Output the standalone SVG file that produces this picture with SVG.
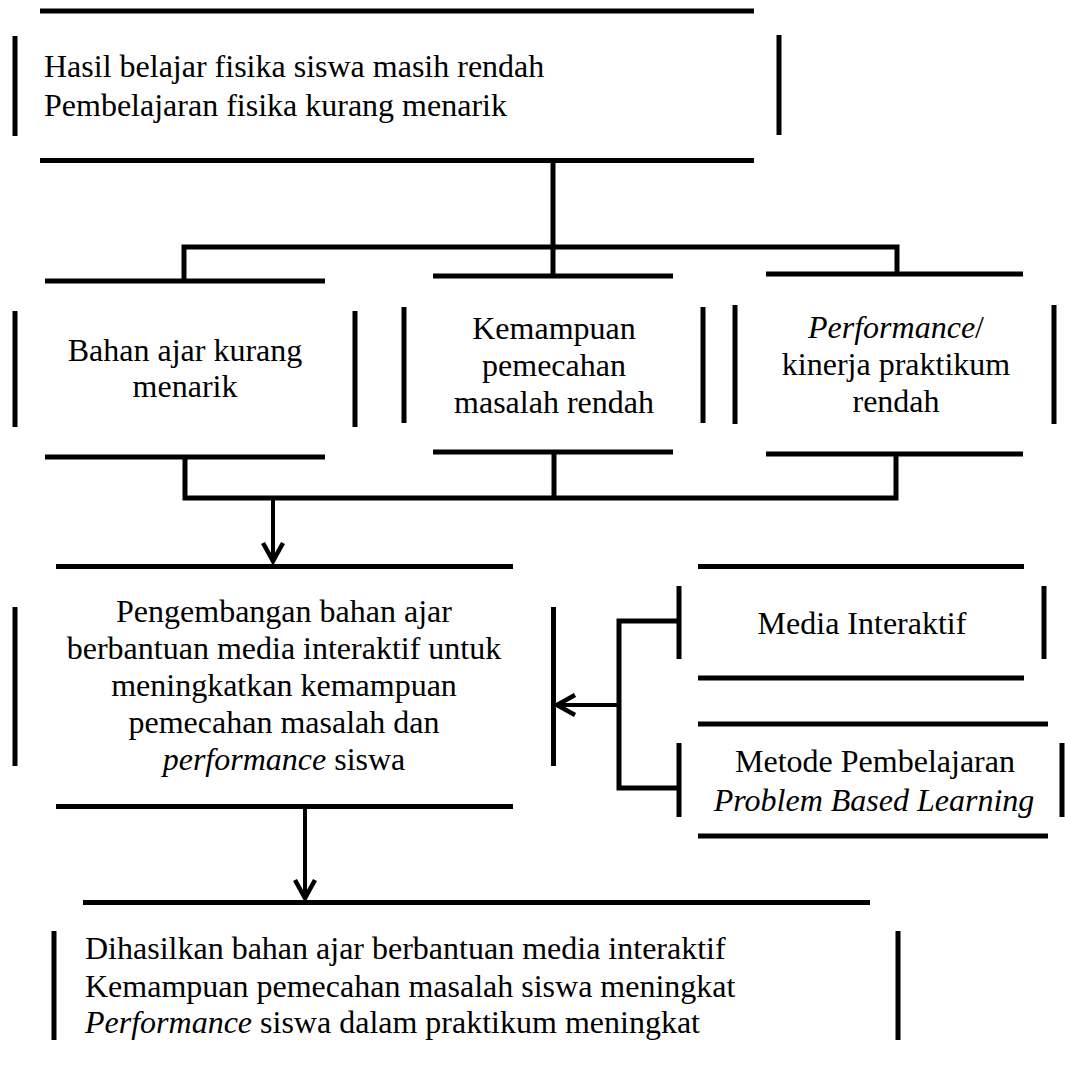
<svg xmlns="http://www.w3.org/2000/svg" width="1065" height="1065" viewBox="0 0 1065 1065">
<style>
.e{stroke:#000;stroke-width:5;fill:none;stroke-linecap:butt}
.c{stroke:#000;stroke-width:5;fill:none;stroke-linejoin:miter}
.a{stroke:#000;stroke-width:4;fill:none}
text{font-family:"Liberation Serif","Times New Roman",serif;font-size:32px;fill:#000}
.m{text-anchor:middle}
.i{font-style:italic}
</style>
<defs>
<marker id="arr" markerUnits="userSpaceOnUse" viewBox="-22 -13 26 26" markerWidth="26" markerHeight="26" refX="0" refY="0" orient="auto" overflow="visible">
<path d="M-18,-10 L0,0 L-18,10" fill="none" stroke="#000" stroke-width="4.5" stroke-linejoin="miter"/>
</marker>
</defs>
<rect width="1065" height="1065" fill="#fff"/>

<g id="connectors">
<path class="c" d="M553,161 V276"/>
<path class="c" d="M184,281 V247 H897 V274"/>
<path class="c" d="M185,457 V498 H896 V454"/>
<path class="c" d="M554,452 V498"/>
<path class="a" d="M273,498 V561" marker-end="url(#arr)"/>
<path class="c" d="M679,621 H619 V788 H679"/>
<path class="a" d="M619,705 H557" marker-end="url(#arr)"/>
<path class="a" d="M305,809 V898" marker-end="url(#arr)"/>
</g>

<g id="node-top">
<path class="e" d="M40,11 H754 M40,160.5 H754 M15,36 V136 M779,35 V135"/>
<text x="44" y="77">Hasil belajar fisika siswa masih rendah</text>
<text x="44" y="116">Pembelajaran fisika kurang menarik</text>
</g>

<g id="node-bahan">
<path class="e" d="M45,281 H325 M45,457 H325 M15,311 V427 M355,311 V427"/>
<text class="m" x="185" y="361">Bahan ajar kurang</text>
<text class="m" x="185" y="397">menarik</text>
</g>

<g id="node-kemampuan">
<path class="e" d="M433,276 H673 M433,452 H673 M404,307 V423 M703,307 V423"/>
<text class="m" x="554" y="339">Kemampuan</text>
<text class="m" x="554" y="376">pemecahan</text>
<text class="m" x="554" y="413">masalah rendah</text>
</g>

<g id="node-performance">
<path class="e" d="M766,274 H1023 M766,454 H1023 M735,305 V424 M1054,305 V424"/>
<text class="m" x="896" y="338"><tspan class="i">Performance</tspan>/</text>
<text class="m" x="896" y="375">kinerja praktikum</text>
<text class="m" x="896" y="412">rendah</text>
</g>

<g id="node-pengembangan">
<path class="e" d="M56,566.5 H513 M56,806.5 H513 M15,607 V766 M553.5,607 V766"/>
<text class="m" x="284" y="622">Pengembangan bahan ajar</text>
<text class="m" x="284" y="659">berbantuan media interaktif untuk</text>
<text class="m" x="284" y="696">meningkatkan kemampuan</text>
<text class="m" x="284" y="733">pemecahan masalah dan</text>
<text class="m" x="284" y="770"><tspan class="i">performance</tspan> siswa</text>
</g>

<g id="node-media">
<path class="e" d="M698,566.5 H1024 M698,678 H1024 M679,586 V659 M1044,586 V659"/>
<text class="m" x="862" y="634">Media Interaktif</text>
</g>

<g id="node-metode">
<path class="e" d="M698,724 H1048 M698,836 H1048 M679,743 V817 M1062,743 V817"/>
<text class="m" x="875" y="772">Metode Pembelajaran</text>
<text class="m i" x="874" y="811">Problem Based Learning</text>
</g>

<g id="node-hasil">
<path class="e" d="M83,902.5 H870 M54,931 V1040 M898,931 V1040"/>
<text x="85" y="959">Dihasilkan bahan ajar berbantuan media interaktif</text>
<text x="85" y="997">Kemampuan pemecahan masalah siswa meningkat</text>
<text x="85" y="1033"><tspan class="i">Performance</tspan> siswa dalam praktikum meningkat</text>
</g>
</svg>
